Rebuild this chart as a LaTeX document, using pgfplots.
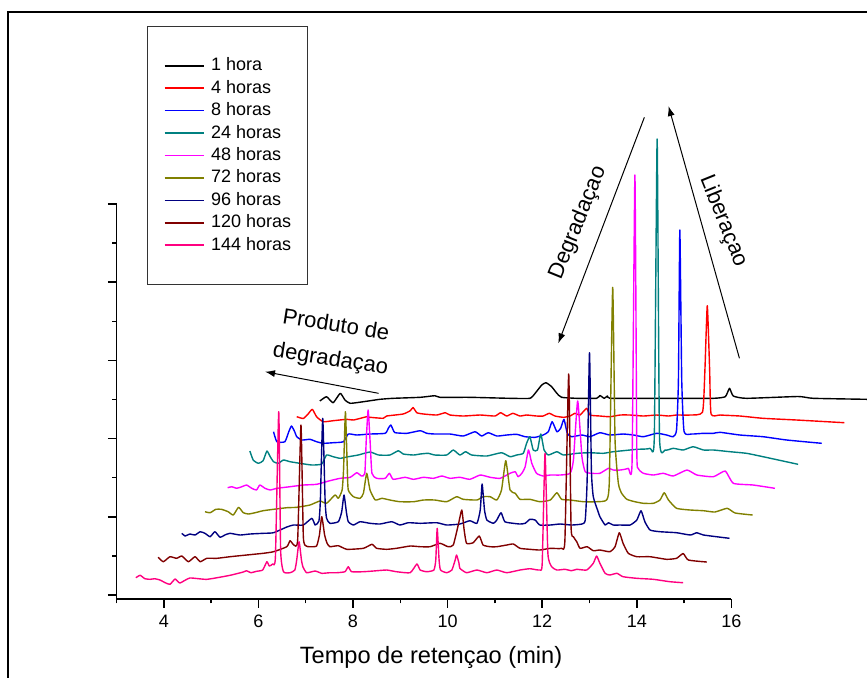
\documentclass[border=0pt]{standalone}
\usepackage{fontspec}
\setmainfont{Liberation Sans}
\usepackage{pgfplots}
\pgfplotsset{compat=1.18}
\usetikzlibrary{arrows.meta}
\definecolor{c1}{RGB}{0,0,0}
\definecolor{c4}{RGB}{255,0,0}
\definecolor{c8}{RGB}{0,0,255}
\definecolor{c24}{RGB}{0,128,128}
\definecolor{c48}{RGB}{255,0,255}
\definecolor{c72}{RGB}{128,128,0}
\definecolor{c96}{RGB}{0,0,128}
\definecolor{c120}{RGB}{128,0,0}
\definecolor{c144}{RGB}{255,0,128}
\begin{document}
\begin{tikzpicture}
\useasboundingbox (0,0) rectangle (433.5pt,-338.5pt);
\draw[line width=1.1pt] (4.15pt,-345pt) -- (4.15pt,-6.15pt) -- (440pt,-6.15pt);
\begin{axis}[
  at={(58.25pt,-299.5pt)}, anchor=south west,
  scale only axis, width=307.45pt, height=197.5pt,
  xmin=3, xmax=16, ymin=0, ymax=395,
  axis lines=left, axis line style={-, line width=0.75pt},
  clip=false,
  xtick={4,6,...,16}, minor xtick={3,5,...,15},
  ytick={4,82.2,160.4,238.6,316.8,395},
  minor ytick={43.1,121.3,199.5,277.7,355.9},
  yticklabels={},
  tick align=outside,
  major tick length=4.3pt, minor tick length=2.2pt,
  every tick/.style={black, line width=0.75pt},
  /pgf/number format/assume math mode=true,
  xticklabel style={font=\fontsize{9}{10}\selectfont},
  xlabel={Tempo de retençao (min)},
  xlabel style={at={(axis description cs:0.5115,-0.1476)}, anchor=center, font=\fontsize{11.8}{14}\selectfont},
  every axis plot/.append style={line width=0.7pt, no markers, line join=round, smooth, tension=0.3},
  legend style={at={(axis description cs:0.0491,1.4506)}, anchor=north west,
    draw=black!80, line width=0.5pt, inner xsep=8.3pt, inner ysep=14pt,
    font=\fontsize{9}{10}\selectfont, column sep=3.2pt,
    nodes={inner xsep=0pt, inner ysep=1.6pt}},
  legend cell align=left,
  legend image code/.code={\draw[#1, line width=0.8pt] (0pt,0pt) -- (19.7pt,0pt);},
]
% 1 hora
\addplot[color=c1] coordinates {
(7.30,198) (7.44,202.3) (7.58,196.3) (7.73,205.7) (7.83,199) (7.94,195.7) (8.22,197.3)
(8.57,199.7) (8.85,200.7) (9.42,201.7) (9.73,203.3) (9.84,201.7) (10.47,201.7) (11.32,200.7)
(11.74,200.7) (11.85,205.7) (11.99,214) (12.08,216.3) (12.20,212.3) (12.31,205.7) (12.41,201.7)
(12.73,200.7) (13.15,200.7) (13.22,203.5) (13.31,200.7) (13.38,203) (13.43,200.7) (14.14,200.7)
(14.84,200.7) (15.62,200.7) (15.87,202.3) (15.96,210.7) (16.04,203) (16.32,200.7) (17.41,202.5)
(17.73,200.7) (18.87,199.7)
};
\addlegendentry{1 hora}
% 4 horas
\addplot[color=c4] coordinates {
(6.81,182.3) (6.95,180.5) (7.05,185) (7.14,189.7) (7.23,182.3) (7.37,177.3) (7.58,178.3)
(7.87,179.7) (8.01,179) (8.29,182.3) (8.36,181.7) (8.64,180.7) (8.71,183) (9.06,185)
(9.21,188.3) (9.27,191.5) (9.35,186.3) (9.49,185) (9.77,184) (9.95,186.3) (10.05,184)
(10.33,183) (10.69,184) (11.00,183) (11.12,186.3) (11.25,183) (11.38,185.7) (11.53,183)
(11.67,184) (11.88,183) (12.02,183) (12.15,185.7) (12.27,183) (12.45,181.7) (12.59,183)
(12.69,185.7) (12.80,184) (12.94,190.7) (13.01,184) (13.22,183) (13.43,182.3) (13.65,184)
(13.86,184) (14.14,183) (14.42,184) (14.67,183) (14.84,184) (15.13,184) (15.39,187)
(15.44,229) (15.49,293.3) (15.54,229) (15.57,185) (15.76,184) (16.18,183) (16.67,180.7)
(17.38,179) (18.39,176.3)
};
\addlegendentry{4 horas}
% 8 horas
\addplot[color=c8] coordinates {
(6.32,167.3) (6.39,157.3) (6.56,157.3) (6.64,167) (6.70,173) (6.77,167) (6.81,162.3)
(6.92,159) (7.09,159.7) (7.23,157.3) (7.37,155.7) (7.58,156.3) (7.80,157.3) (7.90,165)
(8.08,164) (8.36,165) (8.68,165.7) (8.75,171) (8.80,174) (8.85,169) (8.89,166.3)
(9.14,165.7) (9.42,168.3) (9.56,165.7) (9.73,165) (10.05,165) (10.33,163) (10.58,167.3)
(10.72,163) (10.86,166.3) (11.04,163) (11.25,164) (11.46,164.7) (11.64,162.3) (11.85,161.7)
(12.02,164) (12.13,167.3) (12.21,177.3) (12.31,167.3) (12.39,170.7) (12.46,179.7) (12.53,165.7)
(12.62,162.3) (12.84,164) (13.01,162.3) (13.22,166.3) (13.43,164) (13.71,165) (13.93,164)
(14.14,162.3) (14.42,165.7) (14.63,164) (14.77,162.3) (14.84,169) (14.88,219) (14.91,369)
(14.95,219) (15.00,167.3) (15.16,165) (15.41,165.7) (15.62,165.7) (15.76,166.7) (16.18,164)
(16.67,162.3) (17.17,159) (17.91,155.7)
};
\addlegendentry{8 horas}
% 24 horas
\addplot[color=c24] coordinates {
(5.82,148) (5.89,139) (6.00,135.7) (6.10,138.3) (6.18,148) (6.25,142.3) (6.32,137.3)
(6.42,135.7) (6.53,139) (6.67,137.3) (6.88,135.7) (7.13,134) (7.34,135) (7.44,144)
(7.58,142.3) (7.73,140.7) (7.90,142.3) (8.11,144) (8.36,147) (8.54,144) (8.78,144)
(8.96,148.3) (9.06,145) (9.28,144) (9.42,145) (9.59,145.7) (9.73,144) (9.98,144)
(10.12,149) (10.26,144) (10.38,147.3) (10.51,144) (10.83,143) (11.14,146.3) (11.32,142.3)
(11.46,144) (11.60,145.7) (11.67,155.7) (11.74,162.3) (11.81,149) (11.90,149) (11.97,165)
(12.04,149) (12.13,144) (12.31,147.3) (12.45,144) (12.73,145.7) (13.01,146.3) (13.29,145.7)
(13.50,147.3) (13.71,148.3) (14.00,149.7) (14.28,150.7) (14.37,162) (14.43,460) (14.48,162)
(14.60,149) (14.77,150.7) (14.98,149) (15.19,152.3) (15.41,149) (15.62,149) (15.97,147.3)
(16.32,145.7) (16.67,142.3) (17.41,134.7)
};
\addlegendentry{24 horas}
% 48 horas
\addplot[color=c48] coordinates {
(5.35,111.3) (5.44,112.3) (5.54,110.7) (5.65,112.3) (5.75,114) (5.86,110.7) (5.96,109)
(6.03,114) (6.14,110.7) (6.25,109) (6.39,110.7) (6.67,112.3) (6.95,114) (7.23,114.7)
(7.51,118.3) (7.73,120.7) (7.94,121.7) (8.08,126.3) (8.18,123) (8.25,125.7) (8.28,159)
(8.32,189) (8.36,159) (8.40,125.7) (8.50,120.7) (8.68,120.7) (8.77,125.7) (8.85,119.7)
(9.10,121.7) (9.28,119.7) (9.49,121.7) (9.70,120.7) (9.88,123) (10.05,120.7) (10.26,121.7)
(10.47,119.7) (10.69,124) (10.90,121.7) (11.11,120.7) (11.32,125.7) (11.43,127.3) (11.49,122.3)
(11.57,125.7) (11.64,132.3) (11.71,149) (11.78,135.7) (11.88,125.7) (12.02,123) (12.17,124)
(12.38,124) (12.59,125.7) (12.66,139) (12.75,198) (12.84,142.3) (12.91,127.3) (13.05,125.7)
(13.22,125.7) (13.40,130.7) (13.50,129) (13.65,129) (13.82,130.7) (13.90,137) (13.96,424)
(14.00,149) (14.03,130.7) (14.14,125.7) (14.35,124) (14.56,125.7) (14.77,123) (15.06,129)
(15.27,124) (15.62,122.3) (15.87,128) (16.04,115.7) (16.46,114) (16.92,110.7)
};
\addlegendentry{48 horas}
% 72 horas
\addplot[color=c72] coordinates {
(4.87,87.3) (4.98,86.3) (5.10,89.7) (5.22,89.7) (5.36,87.3) (5.47,84) (5.58,91.7)
(5.68,86.3) (5.79,85) (5.93,86.3) (6.10,88.3) (6.32,89.7) (6.60,91.3) (6.81,91.7)
(7.09,94) (7.30,98) (7.44,95.7) (7.62,104) (7.69,100.7) (7.77,109) (7.80,129)
(7.84,187.3) (7.88,129) (7.90,109) (8.01,102.3) (8.15,100.7) (8.22,105.7) (8.29,125.7)
(8.36,109) (8.47,99) (8.61,100.7) (8.78,99) (8.99,97.3) (9.28,97.3) (9.49,99)
(9.73,99) (9.98,97.3) (10.19,102.3) (10.33,99.7) (10.62,99) (10.75,102.3) (10.90,102.3)
(11.04,99) (11.14,109) (11.23,138.3) (11.32,109) (11.43,105.7) (11.53,99.7) (11.74,99.7)
(11.95,97.3) (12.17,99) (12.31,106.3) (12.41,99.7) (12.59,99) (12.87,97.3) (13.15,97.3)
(13.36,99) (13.42,119) (13.49,311.7) (13.54,159) (13.61,115.7) (13.68,105.7) (13.79,99.7)
(13.96,97.3) (14.14,95.7) (14.35,95.7) (14.49,99) (14.58,106.3) (14.67,99) (14.84,90.7)
(15.13,89) (15.41,88.3) (15.65,87) (15.91,90.7) (16.08,86) (16.45,84)
};
\addlegendentry{72 horas}
% 96 horas
\addplot[color=c96] coordinates {
(4.38,65.7) (4.45,63) (4.55,65) (4.66,64) (4.77,67.3) (4.87,65.7) (4.98,62.3)
(5.08,67.3) (5.19,61.7) (5.29,64) (5.40,65.7) (5.61,64) (5.82,65) (6.10,65.7)
(6.32,66.3) (6.60,72) (6.74,74) (6.95,74) (7.13,80.7) (7.20,74) (7.28,78)
(7.31,99) (7.36,180.7) (7.41,99) (7.44,81) (7.51,75.7) (7.69,77.3) (7.76,87)
(7.81,104) (7.86,87) (7.90,77.3) (8.01,74) (8.15,77.3) (8.36,75.7) (8.57,75)
(8.82,77.3) (8.99,74) (9.17,76.3) (9.42,75.7) (9.77,76.3) (9.98,74) (10.26,75)
(10.47,78.3) (10.62,75.7) (10.69,89) (10.73,115) (10.78,89) (10.83,79) (10.97,75.7)
(11.04,79) (11.13,86.3) (11.21,77.3) (11.39,75.7) (11.53,75) (11.64,75.7) (11.74,79.7)
(11.85,79) (11.95,74) (12.17,74) (12.38,75) (12.62,74) (12.84,75) (12.91,79)
(12.95,119) (13.00,246.3) (13.04,129) (13.08,102.3) (13.17,89) (13.22,82.3) (13.33,74)
(13.40,76.3) (13.50,74) (13.65,74) (13.86,74) (14.00,79) (14.09,88.3) (14.17,77.3)
(14.28,69) (14.49,67.3) (14.84,66.3) (15.13,64) (15.27,66.3) (15.41,64) (15.96,60.7)
};
\addlegendentry{96 horas}
% 120 horas
\addplot[color=c120] coordinates {
(3.88,41.7) (3.99,37.3) (4.13,42.3) (4.27,40.7) (4.38,43) (4.52,37.3) (4.66,42.3)
(4.77,37.3) (4.91,40.7) (5.12,40.7) (5.40,42.3) (5.75,44) (6.10,45.7) (6.32,47.3)
(6.60,52.3) (6.67,58.3) (6.75,54) (6.83,59) (6.90,174) (6.95,62.3) (7.01,53)
(7.09,52.3) (7.23,53) (7.29,64) (7.34,82.3) (7.40,64) (7.45,56) (7.51,52.3)
(7.69,53.3) (7.87,49.7) (8.22,50.7) (8.40,54.7) (8.50,50.7) (8.71,49.7) (8.92,50.7)
(9.21,53) (9.42,52.3) (9.63,52.3) (9.84,55.7) (10.01,52.3) (10.12,54) (10.23,75)
(10.30,89) (10.35,69) (10.40,55.7) (10.54,56.3) (10.67,63) (10.75,54) (10.90,52.3)
(11.04,52.3) (11.25,54) (11.39,55) (11.53,50.7) (11.74,49.7) (11.95,49) (12.17,50.7)
(12.41,50.7) (12.48,59) (12.56,225) (12.61,72.3) (12.66,62.3) (12.73,57.3) (12.80,50.7)
(12.95,52.3) (13.08,48.3) (13.22,49) (13.43,47.3) (13.54,52.3) (13.63,66.3) (13.71,55.7)
(13.82,45.7) (14.00,42.3) (14.28,42.3) (14.63,39.7) (14.84,40.7) (14.98,45.5) (15.09,39)
(15.48,37)
};
\addlegendentry{120 horas}
% 144 horas
\addplot[color=c144] coordinates {
(3.41,21.3) (3.50,23.7) (3.60,20.3) (3.71,19.7) (3.81,20.3) (3.92,19) (4.03,16.3)
(4.13,14.7) (4.24,20) (4.34,16) (4.55,21) (4.91,19.7) (5.40,23.7) (5.68,27)
(5.75,28.3) (5.84,26.3) (5.96,27.7) (6.09,29) (6.18,37.3) (6.23,33) (6.30,35)
(6.36,42.3) (6.43,187.3) (6.47,49) (6.53,27.3) (6.67,26.3) (6.77,29) (6.81,39)
(6.86,57.3) (6.91,39) (6.94,32.3) (7.02,26.3) (7.20,28) (7.34,25.7) (7.51,26.3)
(7.66,26.3) (7.83,27.3) (7.90,32.3) (7.97,27.3) (8.22,27.3) (8.43,28) (8.71,29)
(8.92,27.3) (9.21,26.3) (9.35,35) (9.42,29) (9.56,27.3) (9.71,29) (9.75,39)
(9.78,70.7) (9.82,39) (9.85,29) (9.98,26.3) (10.09,29) (10.16,39) (10.19,44)
(10.24,36) (10.26,30.7) (10.40,26.3) (10.62,29) (10.83,26.3) (11.04,29) (11.25,26.3)
(11.53,29) (11.74,30.3) (11.95,29) (12.00,35.7) (12.06,145.7) (12.12,45.7) (12.20,32.3)
(12.31,29) (12.48,29.7) (12.62,28.3) (12.73,29.7) (12.94,29) (13.08,35.7) (13.15,43)
(13.22,35.7) (13.33,25.7) (13.43,24) (13.58,25.7) (13.71,22.3) (14.00,20.7) (14.35,19.7)
(14.70,17.3) (14.98,16.3)
};
\addlegendentry{144 horas}
% annotations
\draw[-{Latex[length=5pt,width=3.5pt]}, line width=0.5pt] (axis cs:8.54,205.7) -- (axis cs:6.14,227.3);
\draw[-{Latex[length=5pt,width=3.5pt]}, line width=0.5pt] (axis cs:14.16,481.7) -- (axis cs:12.34,255.7);
\draw[-{Latex[length=5pt,width=3.5pt]}, line width=0.5pt] (axis cs:16.17,240.7) -- (axis cs:14.67,493);
\node[rotate=-9, align=center, font=\fontsize{11}{17}\selectfont] at (axis cs:7.58,256) {Produto de\\degradaçao};
\node[rotate=68, font=\fontsize{11}{13}\selectfont] at (axis cs:12.76,376) {Degradaçao};
\node[rotate=-68, font=\fontsize{11}{13}\selectfont] at (axis cs:15.83,378) {Liberaçao};
\end{axis}
\end{tikzpicture}
\end{document}
